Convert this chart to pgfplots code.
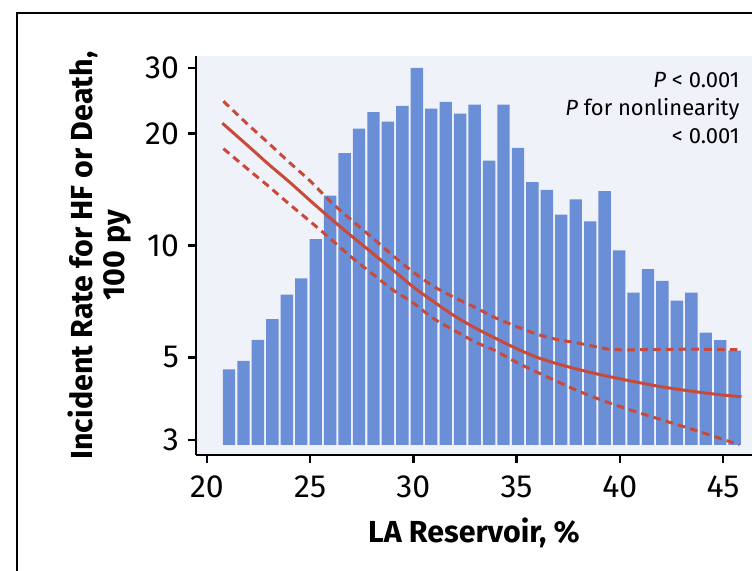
\documentclass[border=0pt]{standalone}
\usepackage{fontspec}
\setmainfont{Fira Sans}
\usepackage{pgfplots}
\pgfplotsset{compat=1.18}

\definecolor{barblue}{HTML}{6B8FD6}
\definecolor{plotbg}{HTML}{EFF2F9}
\definecolor{curvered}{HTML}{C9493A}

% histogram: bin centre, bar top (read on the log axis)
\pgfplotstableread{
x y
21.07 4.64
21.77 4.89
22.47 5.57
23.17 6.34
23.87 7.37
24.57 8.15
25.27 10.4
25.97 13.6
26.67 17.7
27.37 20.6
28.07 22.8
28.77 21.5
29.47 23.7
30.17 30.0
30.87 23.3
31.57 24.3
32.27 22.6
32.97 23.9
33.67 16.9
34.37 23.9
35.07 18.3
35.77 14.8
36.47 14.1
37.17 12.1
37.87 13.3
38.57 11.6
39.27 14.0
39.97 9.7
40.67 7.46
41.37 8.63
42.07 8.03
42.77 7.10
43.47 7.46
44.17 5.83
44.87 5.56
45.57 5.21
}\bars

\begin{document}
\begin{tikzpicture}
\useasboundingbox (0,0) rectangle (376pt,285.5pt);
\draw[line width=1.4pt] (8.5pt,-20pt) -- (8.5pt,279pt) -- (400pt,279pt);

% axes, ticks and labels
\begin{axis}[
  at={(98pt,58pt)}, anchor=south west,
  scale only axis, width=278pt, height=199.5pt,
  xmin=19.47, xmax=46.41,
  ymode=log, ymin=2.734, ymax=32.3,
  axis x line*=bottom, axis y line*=left,
  axis line style={line width=1.2pt, -},
  axis background/.style={fill=plotbg},
  tick align=outside, major tick length=4pt,
  tick style={line width=1.2pt, black},
  xtick={20,25,30,35,40,45},
  xticklabels={20,25,30,35,40,45},
  ytick={3,5,10,20,30},
  yticklabels={3,5,10,20,30},
  yminorticks=false, xminorticks=false,
  ticklabel style={font=\fontsize{16}{18}\selectfont},
  yticklabel style={xshift=-1pt},
  xticklabel style={yshift=-3pt},
  every axis y label/.style={at={(axis description cs:-0.1736,0.5)}, rotate=90, anchor=center,
    font=\bfseries\fontsize{15.2}{16}\selectfont, align=center},
  every axis x label/.style={at={(axis description cs:0.5,-0.1955)}, anchor=center,
    font=\bfseries\fontsize{15.2}{17}\selectfont},
  ylabel={Incident Rate for HF or Death,\\100 py},
  xlabel={LA Reservoir, \%},
]
\node[anchor=north east, align=right, inner sep=0pt,
  font=\fontsize{11}{14}\selectfont] at (rel axis cs:0.978,0.96)
  {\textit{P} < 0.001\\\textit{P} for nonlinearity\\< 0.001};
\end{axis}

% bars and spline curves, same scale, bars rising from 2.9
\begin{axis}[
  at={(98pt,63pt)}, anchor=south west,
  scale only axis, width=278pt, height=194.5pt,
  xmin=19.47, xmax=46.41,
  ymode=log, ymin=2.907, ymax=32.3,
  hide axis, clip=false,
  log origin y=infty,
]
\addplot[ybar, bar width=0.6, bar shift=0pt, fill=barblue, draw=none] table {\bars};
\addplot[curvered, line width=1.5pt, smooth] coordinates {
  (20.75,21.3) (22,18.5) (23,16.5) (24,14.8) (25,13.2) (26,11.8) (27,10.6)
  (28,9.55) (29,8.6) (30,7.73) (31,7.05) (32,6.46) (33,6.0) (34,5.62)
  (35,5.28) (36,5.0) (37,4.8) (38,4.64) (39,4.50) (40,4.38) (41,4.27)
  (42,4.17) (43,4.09) (44,4.02) (45,3.96) (45.9,3.92)
};
\addplot[curvered, line width=1.5pt, smooth, dash pattern=on 3.8pt off 2.6pt] coordinates {
  (20.8,24.4) (22,21.1) (23,18.8) (24,16.7) (25,14.9) (26,13.1) (27,11.7)
  (28,10.5) (29,9.4) (30,8.47) (31,7.75) (32,7.24) (33,6.81) (34,6.38)
  (35,6.05) (36,5.77) (37,5.58) (38,5.46) (39,5.32) (39.6,5.25) (40.5,5.24)
  (42,5.25) (43.5,5.26) (45,5.25) (45.85,5.24)
};
\addplot[curvered, line width=1.5pt, smooth, dash pattern=on 3.8pt off 2.6pt] coordinates {
  (20.8,18.2) (22,16.0) (23,14.4) (24,12.9) (25,11.6) (26,10.4) (27,9.3)
  (28,8.4) (29,7.6) (30,7.0) (31,6.35) (32,5.9) (33,5.5) (34,5.2)
  (35,4.85) (36,4.56) (37,4.30) (38,4.06) (39,3.86) (40,3.69) (41,3.54)
  (42,3.40) (43,3.27) (44,3.14) (45,3.01) (45.8,2.91)
};
\end{axis}
\end{tikzpicture}
\end{document}
